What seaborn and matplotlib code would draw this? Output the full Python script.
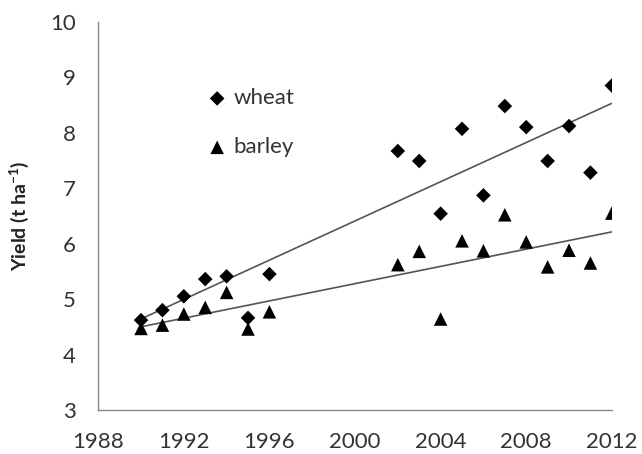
import matplotlib
matplotlib.use('Agg')
import matplotlib.pyplot as plt
import numpy as np
import pandas as pd
import seaborn as sns

# yields (t/ha)
years = [1990, 1991, 1992, 1993, 1994, 1995, 1996,
         2002, 2003, 2004, 2005, 2006, 2007, 2008, 2009, 2010, 2011, 2012]
wheat = [4.62, 4.80, 5.05, 5.36, 5.41, 4.66, 5.45,
         7.67, 7.49, 6.54, 8.07, 6.87, 8.48, 8.10, 7.49, 8.12, 7.28, 8.85]
barley = [4.47, 4.53, 4.73, 4.85, 5.12, 4.46, 4.77,
          5.62, 5.86, 4.64, 6.05, 5.87, 6.52, 6.03, 5.58, 5.88, 5.65, 6.55]

df = pd.DataFrame({'year': years, 'wheat': wheat, 'barley': barley})

sns.set_style('white')
plt.rcParams['font.family'] = ['Lato', 'DejaVu Sans']
plt.rcParams['mathtext.default'] = 'regular'

fig = plt.figure(figsize=(6.42, 4.54), dpi=100)
ax = fig.add_axes([0.153, 0.097, 0.8, 0.855])

# linear trend lines
sns.regplot(x='year', y='wheat', data=df, scatter=False, ci=None, truncate=True,
            line_kws={'color': '#555555', 'lw': 1.2}, ax=ax)
sns.regplot(x='year', y='barley', data=df, scatter=False, ci=None, truncate=True,
            line_kws={'color': '#555555', 'lw': 1.2}, ax=ax)

# points
sns.scatterplot(x='year', y='wheat', data=df, marker='D', s=55, color='black',
                edgecolor='none', label='wheat', ax=ax, zorder=3)
sns.scatterplot(x='year', y='barley', data=df, marker='^', s=95, color='black',
                edgecolor='none', label='barley', ax=ax, zorder=3)

ax.set_xlim(1988, 2012)
ax.set_ylim(3, 10)
ax.set_xticks(np.arange(1988, 2013, 4))
ax.set_yticks(np.arange(3, 11, 1))
ax.tick_params(axis='both', direction='in', length=6, color='#888888',
               labelsize=16, labelcolor='#333333')
ax.tick_params(axis='x', pad=16)
ax.tick_params(axis='y', pad=16)
ax.set_xlabel('')
ax.set_ylabel('Yield (t ha$^{-1}$)', fontsize=14, fontweight='bold', color='#222222')
ax.yaxis.set_label_coords(-0.13, 0.5)

for side in ['top', 'right']:
    ax.spines[side].set_visible(False)
for side in ['left', 'bottom']:
    ax.spines[side].set_color('#888888')
    ax.spines[side].set_linewidth(1.0)

leg = ax.legend(loc='center left', bbox_to_anchor=(0.171, 0.74), frameon=False,
                fontsize=16, labelspacing=1.3, handletextpad=0.23, handlelength=1.0)
for t in leg.get_texts():
    t.set_color('#333333')

plt.savefig('out.png', dpi=100)
